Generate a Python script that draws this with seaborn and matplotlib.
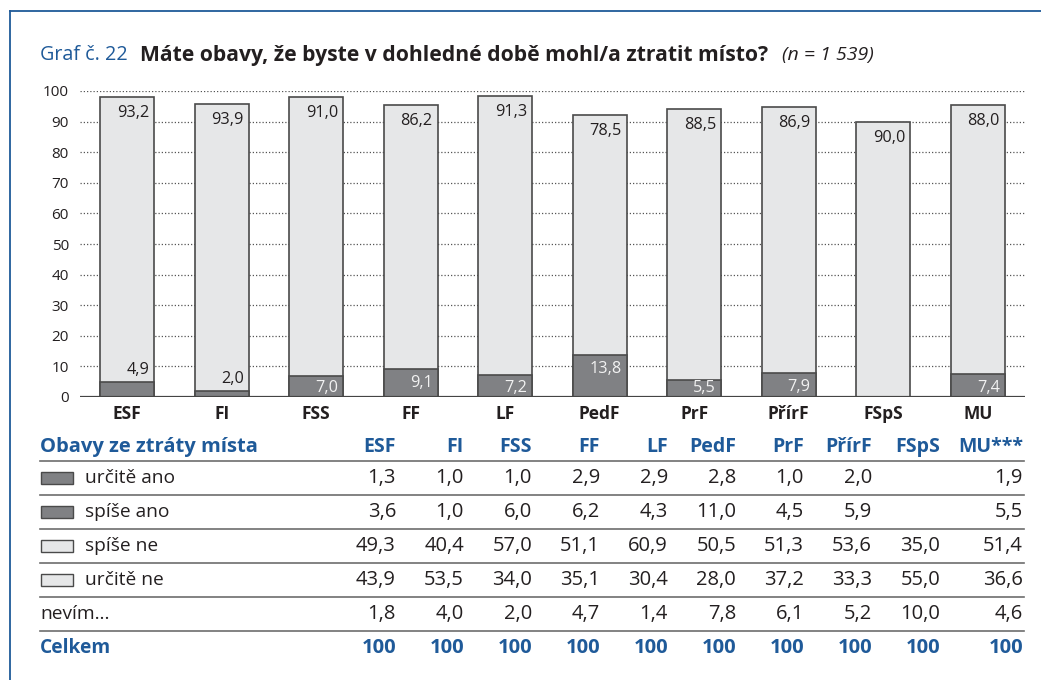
import numpy as np
import pandas as pd
import matplotlib
matplotlib.use("Agg")
import matplotlib.pyplot as plt
import seaborn as sns

# ---------------- data ----------------
categories = ["ESF", "FI", "FSS", "FF", "LF", "PedF", "PrF", "PřírF", "FSpS", "MU"]
yes_vals = [4.9, 2.0, 7.0, 9.1, 7.2, 13.8, 5.5, 7.9, 0.0, 7.4]      # určitě + spíše ano
no_vals = [93.2, 93.9, 91.0, 86.2, 91.3, 78.5, 88.5, 86.9, 90.0, 88.0]  # spíše + určitě ne

table_cols = ["ESF", "FI", "FSS", "FF", "LF", "PedF", "PrF", "PřírF", "FSpS", "MU***"]
row_labels = ["určitě ano", "spíše ano", "spíše ne", "určitě ne", "nevím…", "Celkem"]
r_urcite_ano = ["1,3", "1,0", "1,0", "2,9", "2,9", "2,8", "1,0", "2,0", "", "1,9"]
r_spise_ano = ["3,6", "1,0", "6,0", "6,2", "4,3", "11,0", "4,5", "5,9", "", "5,5"]
r_spise_ne = ["49,3", "40,4", "57,0", "51,1", "60,9", "50,5", "51,3", "53,6", "35,0", "51,4"]
r_urcite_ne = ["43,9", "53,5", "34,0", "35,1", "30,4", "28,0", "37,2", "33,3", "55,0", "36,6"]
r_nevim = ["1,8", "4,0", "2,0", "4,7", "1,4", "7,8", "6,1", "5,2", "10,0", "4,6"]
r_celkem = ["100"] * 10

# ---------------- style ----------------
FONT = ["Open Sans", "DejaVu Sans"]
plt.rcParams["font.family"] = FONT
BLUE = "#1f5a99"
DARK = "#808184"
LIGHT = "#e6e7e8"
EDGE = "#4a4a4a"
TXT = "#231f20"

W, H = 1041, 680
fig = plt.figure(figsize=(W / 100, H / 100), dpi=100)
fig.patch.set_facecolor("white")

def fx(px):
    return px / W

def fy(py):
    return 1 - py / H

# frame (top + left blue lines)
fig.add_artist(plt.Line2D([fx(10), fx(1041)], [fy(11), fy(11)], color=BLUE, lw=1.3,
                          transform=fig.transFigure))
fig.add_artist(plt.Line2D([fx(10), fx(10)], [fy(11), fy(680)], color=BLUE, lw=1.3,
                          transform=fig.transFigure))

# title
fig.text(fx(40), fy(55), "Graf č. 22", color=BLUE, fontsize=14.2, va="center", ha="left")
fig.text(fx(140), fy(55), "Máte obavy, že byste v dohledné době mohl/a ztratit místo?",
         color=TXT, fontsize=15.2, fontweight="bold", va="center", ha="left")
fig.text(fx(782), fy(55), "(n = 1 539)", color=TXT, fontsize=14, style="italic",
         va="center", ha="left")

# ---------------- bars ----------------
ax = fig.add_axes([fx(80), fy(397), (1025 - 80) / W, (397 - 91) / H])
df = pd.DataFrame({"cat": categories, "yes": yes_vals, "no": no_vals})
df["total"] = df["yes"] + df["no"]

sns.barplot(data=df, x="cat", y="total", order=categories, color=LIGHT, saturation=1,
            edgecolor=EDGE, linewidth=1.2, width=0.57, ax=ax)
sns.barplot(data=df, x="cat", y="yes", order=categories, color=DARK, saturation=1,
            edgecolor=EDGE, linewidth=1.2, width=0.57, ax=ax)

ax.set_xlim(-0.5, 9.5)
ax.set_ylim(0, 100)
ax.set_yticks(range(0, 101, 10))
ax.set_yticklabels([str(v) for v in range(0, 101, 10)], fontsize=11, color=TXT)
ax.set_xticks(range(len(categories)))
ax.set_xticklabels(categories, fontsize=12.5, fontweight="bold", color=TXT)
ax.tick_params(axis="y", length=0, pad=8)
ax.tick_params(axis="x", length=0, pad=6)
ax.set_xlabel("")
ax.set_ylabel("")
for s in ax.spines.values():
    s.set_visible(False)
ax.set_axisbelow(True)
for v in range(10, 101, 10):
    ax.axhline(v, color="#555555", lw=0.9, ls=(0, (1, 1.6)), zorder=0)
ax.axhline(0, color="#444444", lw=1.6, zorder=5)

def fmt(v):
    return f"{v:.1f}".replace(".", ",")

half = 0.57 / 2
for i, (y, n) in enumerate(zip(yes_vals, no_vals)):
    xr = i + half
    top = y + n
    ax.annotate(fmt(n), (xr, top), xytext=(-5, -16), textcoords="offset pixels",
                ha="right", va="center", fontsize=11.7, color=TXT, zorder=6)
    if y > 0:
        if y < 4.95:
            ax.annotate(fmt(y), (xr, y), xytext=(-5, 12), textcoords="offset pixels",
                        ha="right", va="center", fontsize=11.7, color=TXT, zorder=6)
        else:
            # place inside dark segment
            off = -14
            ypix = y * 3.06 - 14
            if ypix < 9:
                off = 9 - y * 3.06
            ax.annotate(fmt(y), (xr, y), xytext=(-5, off), textcoords="offset pixels",
                        ha="right", va="center", fontsize=11.7, color="#f2f2f2", zorder=6)

# ---------------- table ----------------
col_right = [396, 464, 532, 600, 668, 736, 804, 872, 940, 1023]
fig.text(fx(40), fy(447), "Obavy ze ztráty místa", color=BLUE, fontsize=14.5,
         fontweight="bold", ha="left", va="center")
for xr, c in zip(col_right, table_cols):
    fig.text(fx(xr), fy(447), c, color=BLUE, fontsize=14, fontweight="bold",
             ha="right", va="center")

rows = [r_urcite_ano, r_spise_ano, r_spise_ne, r_urcite_ne, r_nevim, r_celkem]
row_y = [478, 512, 546, 580, 614, 648]
line_y = [461, 495, 529, 563, 597, 631]
patch_colors = [DARK, DARK, LIGHT, LIGHT, None, None]

for ly in line_y:
    fig.add_artist(plt.Line2D([fx(40), fx(1024)], [fy(ly), fy(ly)], color="#6d6d6d",
                              lw=1.2, transform=fig.transFigure))

for k, (lab, vals, ry, pc) in enumerate(zip(row_labels, rows, row_y, patch_colors)):
    is_total = lab == "Celkem"
    color = BLUE if is_total else TXT
    weight = "bold" if is_total else "normal"
    tx = 40
    if pc is not None:
        fig.add_artist(plt.Rectangle((fx(41), fy(ry + 6)), 32 / W, 12 / H,
                                     facecolor=pc, edgecolor=EDGE, lw=1.0,
                                     transform=fig.transFigure))
        tx = 85
    fs_lab = 13.8 if not is_total else 13.8
    fig.text(fx(tx), fy(ry), lab, color=color, fontsize=fs_lab, fontweight=weight,
             ha="left", va="center")
    for xr, v in zip(col_right, vals):
        fig.text(fx(xr), fy(ry), v, color=color, fontsize=14.5, fontweight=weight,
                 ha="right", va="center")

fig.savefig("out.png", dpi=100, facecolor="white")
